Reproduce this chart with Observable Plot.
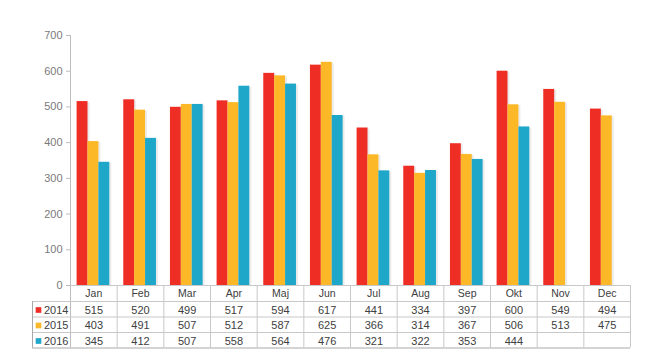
<!DOCTYPE html>
<html>
<head>
<meta charset="utf-8">
<script src="https://cdn.jsdelivr.net/npm/d3@7"></script>
<script src="https://cdn.jsdelivr.net/npm/@observablehq/plot@0.6"></script>
<style>
  html, body { margin: 0; padding: 0; background: #fff; }
  #chart svg { display: block; }
</style>
</head>
<body>
<div id="chart"></div>
<script>
const months = ["Jan","Feb","Mar","Apr","Maj","Jun","Jul","Aug","Sep","Okt","Nov","Dec"];
const years = ["2014","2015","2016"];
const v2014 = [515,520,499,517,594,617,441,334,397,600,549,494];
const v2015 = [403,491,507,512,587,625,366,314,367,506,513,475];
const v2016 = [345,412,507,558,564,476,321,322,353,444,null,null];
const yTicks = [0,100,200,300,400,500,600,700];
const colors = ["#ee2e24","#fdb827","#1ea7c9"];

const series = [v2014, v2015, v2016];
const W = 656, H = 358, mL = 70, mR = 26, mT = 35, mB = 73;
const bw = (W - mL - mR) / months.length;
const gl = 6.6, barW = 10.9;
const rowDy = [8.5, 24.5, 40, 55.5];   // text centres below baseline
const lineDy = [16, 31.5, 47, 62.5];   // horizontal table lines below baseline
const tableBottom = 62.5;
const frameH = H - mT - mB;
const legendW = 38;
const gridColor = "#c8c8c8";
const textColor = "#404040";
const font = "Liberation Sans, Arial, sans-serif";

const rows = series.map((vals, i) => months.map((m, j) => ({month: m, year: years[i], value: vals[j]})));

const marks = [];
// bar shadows
rows.forEach((r, i) => {
  marks.push(Plot.barY(r.filter(d => d.value != null), {
    x: "month", y: "value", fill: "#000", fillOpacity: 0.08,
    insetLeft: gl + barW * i, insetRight: bw - gl - barW * (i + 1), dx: 2, dy: 1
  }));
});
// bars
rows.forEach((r, i) => {
  marks.push(Plot.barY(r.filter(d => d.value != null), {
    x: "month", y: "value", fill: colors[i],
    insetLeft: gl + barW * i, insetRight: bw - gl - barW * (i + 1)
  }));
});
// y axis
marks.push(Plot.axisY({
  ticks: yTicks, tickSize: 4, tickPadding: 4, label: null,
  fontSize: 11, fill: "#7a7a7a", stroke: "#bdbdbd", fontFamily: font
}));
// axis line (continues down through table)
marks.push(Plot.ruleX([months[0]], {dx: -bw / 2, stroke: "#bdbdbd", insetBottom: -tableBottom}));
// baseline / table top
marks.push(Plot.ruleY([0], {stroke: gridColor}));
// horizontal table lines
lineDy.forEach((d, k) => {
  marks.push(Plot.ruleY([0], {dy: d, stroke: k === 3 ? "#a8a8a8" : gridColor, insetLeft: -legendW}));
});
// vertical table lines
marks.push(Plot.ruleX(months.slice(1), {dx: -bw / 2, stroke: gridColor, insetTop: frameH, insetBottom: -tableBottom}));
marks.push(Plot.ruleX([months[months.length - 1]], {dx: bw / 2, stroke: gridColor, insetTop: frameH, insetBottom: -tableBottom}));
marks.push(Plot.ruleX([months[0]], {dx: -bw / 2 - legendW, stroke: "#a8a8a8", insetTop: frameH + lineDy[0], insetBottom: -tableBottom}));
// month header
marks.push(Plot.text(months, {
  x: d => d, frameAnchor: "bottom", lineAnchor: "middle", dy: rowDy[0], fill: textColor,
  fontSize: 10.5, fontFamily: font
}));
// values
rows.forEach((r, i) => {
  marks.push(Plot.text(r.filter(d => d.value != null), {
    x: "month", text: d => String(d.value), frameAnchor: "bottom", lineAnchor: "middle", dy: rowDy[i + 1],
    fill: textColor, fontSize: 11, fontFamily: font, letterSpacing: 0.4
  }));
});
// legend squares + years
years.forEach((yr, i) => {
  marks.push(Plot.dot([yr], {
    x: () => months[0], frameAnchor: "bottom", dx: -bw / 2 - 32, dy: rowDy[i + 1],
    symbol: "square", r: 3.2, fill: colors[i], stroke: null
  }));
  marks.push(Plot.text([yr], {
    x: () => months[0], text: d => d, frameAnchor: "bottom", lineAnchor: "middle", textAnchor: "start",
    dx: -bw / 2 - 26.5, dy: rowDy[i + 1], fill: textColor, fontSize: 11, fontFamily: font
  }));
});

const chart = Plot.plot({
  width: W, height: H,
  marginLeft: mL, marginRight: mR, marginTop: mT, marginBottom: mB,
  x: {domain: months, padding: 0, round: false, axis: null},
  y: {domain: [0, 700], axis: null},
  style: {background: "#fff", overflow: "visible"},
  marks
});
document.getElementById("chart").appendChild(chart);
</script>
</body>
</html>
